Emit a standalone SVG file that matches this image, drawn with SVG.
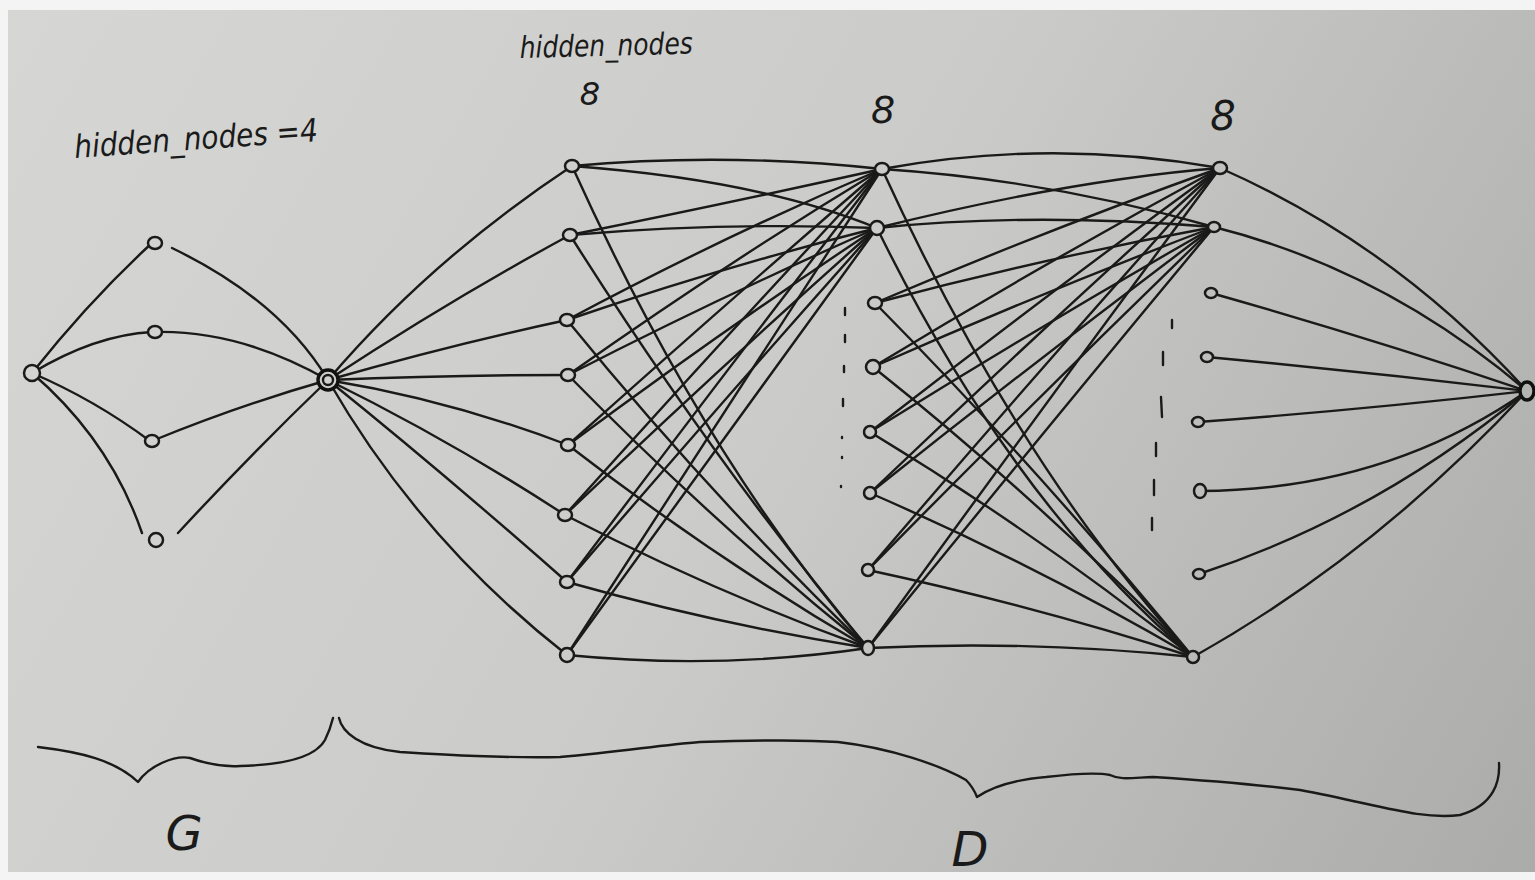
<svg xmlns="http://www.w3.org/2000/svg" width="1535" height="880" viewBox="0 0 1535 880">
  <defs>
    <linearGradient id="paper" gradientUnits="userSpaceOnUse" x1="0" y1="0" x2="1535" y2="880">
      <stop offset="0" stop-color="#d6d6d4"/>
      <stop offset="0.5" stop-color="#cbcbc9"/>
      <stop offset="1" stop-color="#ababa9"/>
    </linearGradient>
    <style>
      .ink { fill: none; stroke: #1a1a1a; stroke-width: 2.4; stroke-linecap: round; stroke-linejoin: round; }
      .n { fill: url(#paper); stroke: #1a1a1a; stroke-width: 2.5; }
      .nb { fill: url(#paper); stroke: #111; stroke-width: 3.4; }
      .hand { font-family: "DejaVu Sans", "Liberation Sans", sans-serif; font-style: italic; fill: #1a1a1a; }
      .tick { stroke: #1a1a1a; stroke-width: 2.4; stroke-linecap: round; }
    </style>
  </defs>

  <!-- paper -->
  <rect x="0" y="0" width="1535" height="880" fill="#f4f4f4"/>
  <rect x="8" y="10" width="1527" height="862" fill="url(#paper)"/>

  <!-- labels -->
  <text class="hand" x="75" y="158" font-size="32" textLength="244" lengthAdjust="spacingAndGlyphs" transform="rotate(-4 75 158)">hidden_nodes =4</text>
  <text class="hand" x="520" y="58" font-size="30" textLength="173" lengthAdjust="spacingAndGlyphs" transform="rotate(-1.5 520 58)">hidden_nodes</text>
  <text class="hand" x="590" y="105" font-size="32" text-anchor="middle">8</text>
  <text class="hand" x="883" y="123" font-size="38" text-anchor="middle">8</text>
  <text class="hand" x="1223" y="130" font-size="40" text-anchor="middle">8</text>
  <text class="hand" x="184" y="850" font-size="48" text-anchor="middle">G</text>
  <text class="hand" x="970" y="866" font-size="48" text-anchor="middle">D</text>

  <!-- braces -->
  <g id="braces" class="ink">
    <path d="M38,747 C80,752 115,760 138,782 C150,765 175,755 190,758 C210,765 225,767 240,766 C280,765 315,758 325,740 C330,730 332,722 333,718"/>
    <path d="M339,718 C342,732 360,748 400,752 C450,755 500,758 560,757 C620,752 660,745 700,742 C760,740 810,740 838,742 C890,748 940,765 966,780 C972,786 975,792 977,797 C990,788 1010,780 1046,777 C1080,773 1100,773 1110,775 C1120,780 1130,778 1153,777 C1200,780 1260,785 1300,790 C1380,805 1420,820 1460,815 C1495,805 1500,780 1499,763"/>
  </g>

  <!-- elided-node marks between layers -->
  <g id="ellipsis-marks" class="tick">
    <line x1="845" y1="308" x2="845" y2="315"/>
    <line x1="845" y1="335" x2="845" y2="342"/>
    <line x1="844" y1="366" x2="844" y2="372"/>
    <line x1="843" y1="399" x2="843" y2="406"/>
    <line x1="842" y1="437" x2="842" y2="438"/>
    <line x1="842" y1="457" x2="842" y2="458"/>
    <line x1="841" y1="486" x2="841" y2="487"/>
    <line x1="1172" y1="320" x2="1172" y2="328"/>
    <line x1="1163" y1="352" x2="1163" y2="365"/>
    <line x1="1161" y1="397" x2="1162" y2="417"/>
    <line x1="1156" y1="443" x2="1156" y2="456"/>
    <line x1="1154" y1="480" x2="1154" y2="495"/>
    <line x1="1152" y1="518" x2="1152" y2="530"/>
  </g>

  <!-- connectors -->
  <g id="connectors" class="ink">
    <!-- input to generator hidden layer -->
    <path d="M32,373 Q90,300 152,243"/>
    <path d="M32,373 Q95,335 152,332"/>
    <path d="M32,373 Q95,400 150,441"/>
    <path d="M32,373 Q110,440 142,533"/>
    <!-- generator hidden layer to generator output -->
    <path d="M172,248 Q280,300 328,380"/>
    <path d="M155,332 Q240,330 328,380"/>
    <path d="M152,441 Q240,405 328,380"/>
    <path d="M178,533 Q250,455 328,380"/>
    <!-- generator output to discriminator layer 1 -->
    <path d="M328,380 Q430,260 572,166"/>
    <path d="M328,380 Q450,300 570,235"/>
    <path d="M328,380 Q450,345 567,320"/>
    <path d="M328,380 Q450,375 568,375"/>
    <path d="M328,380 Q450,400 568,445"/>
    <path d="M328,380 Q450,440 565,515"/>
    <path d="M328,380 Q440,470 567,582"/>
    <path d="M328,380 Q420,540 567,655"/>
    <!-- layer 1 to layer 2, node 1 -->
    <path d="M572,166 Q725,152 882,169"/>
    <path d="M570,235 Q720,205 882,169"/>
    <path d="M567,320 Q728,234 882,169"/>
    <path d="M568,375 Q728,262 882,169"/>
    <path d="M568,445 Q730,300 882,169"/>
    <path d="M565,515 Q728,334 882,169"/>
    <path d="M567,582 Q730,366 882,169"/>
    <path d="M567,655 Q730,402 882,169"/>
    <!-- layer 1 to layer 2, node 2 -->
    <path d="M572,166 Q760,180 877,228"/>
    <path d="M570,235 Q720,222 877,228"/>
    <path d="M567,320 Q726,266 877,228"/>
    <path d="M568,375 Q726,294 877,228"/>
    <path d="M568,445 Q726,328 877,228"/>
    <path d="M565,515 Q726,362 877,228"/>
    <path d="M567,582 Q727,396 877,228"/>
    <path d="M567,655 Q728,432 877,228"/>
    <!-- layer 1 to layer 2, node 8 -->
    <path d="M572,166 Q705,460 868,648"/>
    <path d="M570,235 Q712,460 868,648"/>
    <path d="M567,320 Q712,498 868,648"/>
    <path d="M568,375 Q714,524 868,648"/>
    <path d="M568,445 Q714,558 868,648"/>
    <path d="M565,515 Q714,592 868,648"/>
    <path d="M567,582 Q716,624 868,648"/>
    <path d="M567,655 Q720,670 868,648"/>
    <!-- layer 2 to layer 3, node 1 -->
    <path d="M882,169 Q1050,138 1220,168"/>
    <path d="M877,228 Q1070,180 1220,168"/>
    <path d="M875,303 Q1047,230 1220,168"/>
    <path d="M873,367 Q1046,262 1220,168"/>
    <path d="M870,432 Q1045,296 1220,168"/>
    <path d="M870,493 Q1045,326 1220,168"/>
    <path d="M868,570 Q1044,364 1220,168"/>
    <path d="M868,648 Q1048,400 1220,168"/>
    <!-- layer 2 to layer 3, node 2 -->
    <path d="M882,169 Q1050,180 1214,227"/>
    <path d="M877,228 Q1030,212 1214,227"/>
    <path d="M875,303 Q1044,258 1214,227"/>
    <path d="M873,367 Q1043,292 1214,227"/>
    <path d="M870,432 Q1042,325 1214,227"/>
    <path d="M870,493 Q1042,356 1214,227"/>
    <path d="M868,570 Q1041,394 1214,227"/>
    <path d="M868,648 Q1045,430 1214,227"/>
    <!-- layer 2 to layer 3, node 8 -->
    <path d="M882,169 Q1020,470 1193,657"/>
    <path d="M877,228 Q1010,500 1193,657"/>
    <path d="M875,303 Q1040,470 1193,657"/>
    <path d="M873,367 Q1040,500 1193,657"/>
    <path d="M870,432 Q1040,535 1193,657"/>
    <path d="M870,493 Q1038,566 1193,657"/>
    <path d="M868,570 Q1035,606 1193,657"/>
    <path d="M868,648 Q1030,640 1193,657"/>
    <!-- layer 3 to discriminator output -->
    <path d="M1220,168 Q1395,245 1527,391"/>
    <path d="M1214,227 Q1385,270 1527,391"/>
    <path d="M1211,293 Q1370,338 1527,391"/>
    <path d="M1207,357 Q1367,372 1527,391"/>
    <path d="M1198,422 Q1360,410 1527,391"/>
    <path d="M1200,491 Q1385,490 1527,391"/>
    <path d="M1199,574 Q1378,515 1527,391"/>
    <path d="M1193,657 Q1375,555 1527,391"/>
  </g>

  <!-- generator -->
  <g id="g-input"><ellipse class="n" cx="32" cy="373" rx="8" ry="8"/></g>
  <g id="g-h1"><ellipse class="n" cx="155" cy="243" rx="7" ry="6"/></g>
  <g id="g-h2"><ellipse class="n" cx="155" cy="332" rx="7" ry="6"/></g>
  <g id="g-h3"><ellipse class="n" cx="152" cy="441" rx="7" ry="6"/></g>
  <g id="g-h4"><ellipse class="n" cx="156" cy="540" rx="7" ry="7"/></g>
  <g id="g-out">
    <circle class="nb" cx="328" cy="380" r="10"/>
    <circle class="ink" cx="328" cy="380" r="5"/>
  </g>

  <!-- discriminator layer 1 -->
  <g id="d1-1"><ellipse class="n" cx="572" cy="166" rx="7" ry="6"/></g>
  <g id="d1-2"><ellipse class="n" cx="570" cy="235" rx="7" ry="6"/></g>
  <g id="d1-3"><ellipse class="n" cx="567" cy="320" rx="7" ry="6"/></g>
  <g id="d1-4"><ellipse class="n" cx="568" cy="375" rx="7" ry="6"/></g>
  <g id="d1-5"><ellipse class="n" cx="568" cy="445" rx="7" ry="6"/></g>
  <g id="d1-6"><ellipse class="n" cx="565" cy="515" rx="7" ry="6"/></g>
  <g id="d1-7"><ellipse class="n" cx="567" cy="582" rx="7" ry="6"/></g>
  <g id="d1-8"><ellipse class="n" cx="567" cy="655" rx="7" ry="7"/></g>

  <!-- discriminator layer 2 -->
  <g id="d2-1"><ellipse class="n" cx="882" cy="169" rx="7" ry="6"/></g>
  <g id="d2-2"><ellipse class="n" cx="877" cy="228" rx="7" ry="7"/></g>
  <g id="d2-3"><ellipse class="n" cx="875" cy="303" rx="7" ry="6"/></g>
  <g id="d2-4"><ellipse class="n" cx="873" cy="367" rx="7" ry="7"/></g>
  <g id="d2-5"><ellipse class="n" cx="870" cy="432" rx="6" ry="6"/></g>
  <g id="d2-6"><ellipse class="n" cx="870" cy="493" rx="6" ry="6"/></g>
  <g id="d2-7"><ellipse class="n" cx="868" cy="570" rx="6" ry="6"/></g>
  <g id="d2-8"><ellipse class="n" cx="868" cy="648" rx="6" ry="7"/></g>

  <!-- discriminator layer 3 -->
  <g id="d3-1"><ellipse class="n" cx="1220" cy="168" rx="7" ry="6"/></g>
  <g id="d3-2"><ellipse class="n" cx="1214" cy="227" rx="6" ry="5"/></g>
  <g id="d3-3"><ellipse class="n" cx="1211" cy="293" rx="6" ry="5"/></g>
  <g id="d3-4"><ellipse class="n" cx="1207" cy="357" rx="6" ry="5"/></g>
  <g id="d3-5"><ellipse class="n" cx="1198" cy="422" rx="6" ry="5"/></g>
  <g id="d3-6"><ellipse class="n" cx="1200" cy="491" rx="6" ry="7"/></g>
  <g id="d3-7"><ellipse class="n" cx="1199" cy="574" rx="6" ry="5"/></g>
  <g id="d3-8"><ellipse class="n" cx="1193" cy="657" rx="6" ry="6"/></g>

  <!-- discriminator output -->
  <g id="d-out"><ellipse class="nb" cx="1527" cy="391" rx="7" ry="9"/></g>
</svg>
